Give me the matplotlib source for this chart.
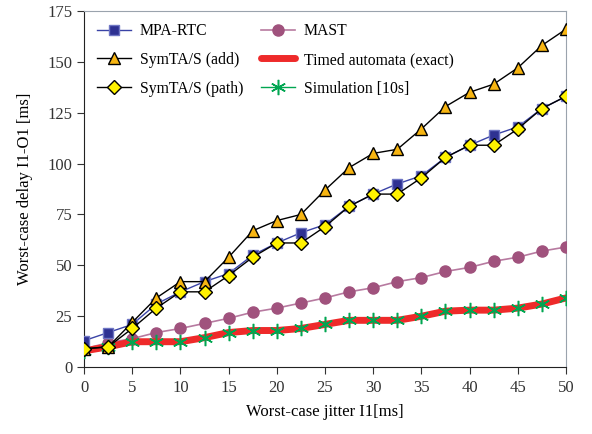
import matplotlib
matplotlib.use("Agg")
import matplotlib.pyplot as plt
from matplotlib.lines import Line2D
import numpy as np

plt.rcParams['font.family'] = ['Liberation Serif', 'DejaVu Serif']

# worst-case jitter of input I1 [ms]
jitter = [0, 2.5, 5, 7.5, 10, 12.5, 15, 17.5, 20, 22.5, 25,
          27.5, 30, 32.5, 35, 37.5, 40, 42.5, 45, 47.5, 50]

mpa_rtc = [13, 17, 21, 31, 37, 42, 46, 55, 61, 66, 70,
           79, 85, 90, 94, 103, 109, 114, 118, 127, 133]
mast = [9, 12, 14, 17, 19, 21.5, 24, 27, 29, 31.5, 34,
        37, 39, 42, 44, 47, 49, 52, 54, 57, 59]
symta_add = [9, 10, 22, 34, 42, 42, 54, 67, 72, 75, 87,
             98, 105, 107, 117, 128, 135, 139, 147, 158, 166]
timed_automata = [8, 10, 12.5, 12.5, 12.5, 14.5, 17, 18, 18, 19, 21,
                  23, 23, 23, 25, 27.5, 28, 28, 29, 31, 34]
symta_path = [9, 10, 19, 29, 37, 37, 45, 54, 61, 61, 69,
              79, 85, 85, 93, 103, 109, 109, 117, 127, 133]
simulation = [8, 10, 12.5, 12.5, 12.5, 14.5, 17, 18, 18, 19, 21,
              23, 23, 23, 25, 27.5, 28, 28, 29, 31, 34]

fig = plt.figure(figsize=(5.92, 4.34), dpi=100)
ax = fig.add_axes([0.142, 0.154, 0.814, 0.821])

h_mpa, = ax.plot(jitter, mpa_rtc, color='#3a43a6', lw=1, marker='s', ms=7,
                 mfc='#2e3192', mec='#6f76c4', label='MPA-RTC', zorder=4)
h_mast, = ax.plot(jitter, mast, color='#b77aa0', lw=1.2, marker='o', ms=8,
                  mfc='#a0527d', mec='#a0527d', label='MAST', zorder=3)
h_add, = ax.plot(jitter, symta_add, color='black', lw=1, marker='^', ms=9,
                 mfc='#f7b512', mec='black', label='SymTA/S (add)', zorder=5)
# simulation line sits under the thick red one, stars on top
ax.plot(jitter, simulation, color='#00a651', lw=1, zorder=2)
h_ta, = ax.plot(jitter, timed_automata, color='#ee2a2a', lw=5,
                solid_capstyle='round', label='Timed automata (exact)', zorder=3)
h_path, = ax.plot(jitter, symta_path, color='black', lw=1, marker='D', ms=7,
                  mfc='#fff200', mec='black', label='SymTA/S (path)', zorder=6)
ax.plot(jitter, simulation, ls='none', color='#00a651', marker=(6, 2, 0),
        ms=11, mew=1.1, zorder=4)
h_sim = Line2D([], [], color='#00a651', lw=1, marker=(6, 2, 0), ms=11,
               mew=1.1, label='Simulation [10s]')

ax.set_xlim(0, 50)
ax.set_ylim(0, 175)
ax.set_xticks(np.arange(0, 51, 5))
ax.set_yticks(np.arange(0, 176, 25))
ax.tick_params(direction='out', length=5, labelsize=12, colors='#333333')
ax.tick_params(axis='x', pad=4)
for side in ['top', 'right']:
    ax.spines[side].set_color('#9aa3ad')
for side in ['left', 'bottom']:
    ax.spines[side].set_color('#222222')

ax.set_xlabel('Worst-case jitter I1[ms]', fontsize=12, labelpad=6)
ax.set_ylabel('Worst-case delay I1-O1 [ms]', fontsize=12, labelpad=10)

# ncol=2 fills column by column
ax.legend(handles=[h_mpa, h_add, h_path, h_mast, h_ta, h_sim],
          ncol=2, loc='upper left', frameon=False, fontsize=11.3,
          handlelength=2.2, handletextpad=0.55, columnspacing=1.1,
          labelspacing=0.8, bbox_to_anchor=(0.0, 1.0), borderaxespad=0.4)

fig.savefig('out.png', dpi=100)
